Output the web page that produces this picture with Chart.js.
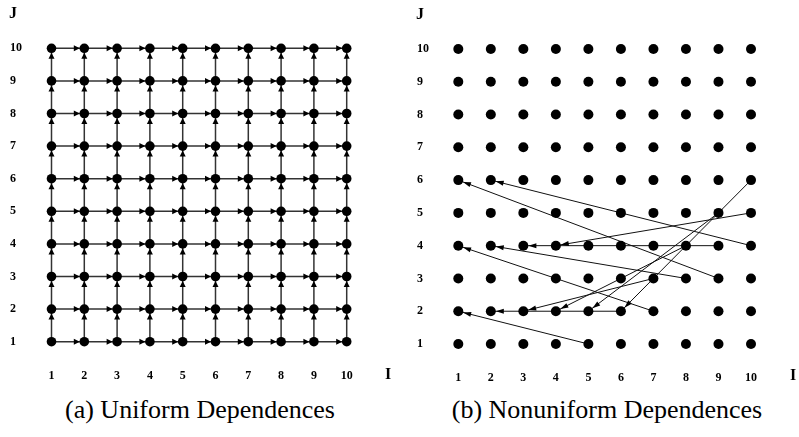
<!DOCTYPE html>
<html>
<head>
<meta charset="utf-8">
<script src="https://cdn.jsdelivr.net/npm/chart.js@4.4.1/dist/chart.umd.min.js"></script>
<style>
  body { margin: 0; background: #fff; width: 799px; height: 437px; overflow: hidden; position: relative; }
  canvas { position: absolute; top: 0; }
  #chartA { left: 0; }
  #chartB { left: 400px; }
  .caption { position: absolute; top: 395px; font-family: 'Liberation Serif', 'Times New Roman', serif; font-size: 26px; color: #000; white-space: nowrap; transform: translateX(-50%); }
</style>
</head>
<body>
<canvas id="chartA" width="400" height="395"></canvas>
<canvas id="chartB" width="399" height="395"></canvas>
<div class="caption" style="left:200px">(a) Uniform Dependences</div>
<div class="caption" style="left:607px">(b) Nonuniform Dependences</div>
<script>
// eixos do espaço de iterações
const iTicks = [1, 2, 3, 4, 5, 6, 7, 8, 9, 10];
const jTicks = [1, 2, 3, 4, 5, 6, 7, 8, 9, 10];

// (a) vetores de dependência uniformes: (1,0) e (0,1)
const uniformDi = [1, 0];
const uniformDj = [0, 1];

// (b) dependências não uniformes: origem -> destino
const nuSrcI = [5, 7, 8, 9, 10, 10, 9, 6, 7, 8, 9, 10];
const nuSrcJ = [1, 2, 3, 3, 4, 5, 4, 2, 3, 4, 5, 6];
const nuDstI = [1, 1, 2, 1, 2, 4, 3, 2, 3, 4, 5, 6];
const nuDstJ = [2, 4, 4, 6, 6, 4, 4, 2, 2, 2, 2, 2];

const serif = "'Liberation Serif', 'Times New Roman', serif";

// pontos da malha
const gridPoints = [];
iTicks.forEach(i => jTicks.forEach(j => gridPoints.push({ x: i, y: j })));

// desenha as pontas das setas no fim de cada linha
const arrowHeads = {
  id: 'arrowHeads',
  afterDatasetsDraw(chart, args, opts) {
    const ctx = chart.ctx;
    ctx.save();
    ctx.fillStyle = opts.color || '#000';
    chart.data.datasets.forEach((ds, idx) => {
      if (!ds.isArrow) return;
      const pts = chart.getDatasetMeta(idx).data;
      if (pts.length < 2) return;
      const a = pts[pts.length - 2], b = pts[pts.length - 1];
      const ang = Math.atan2(b.y - a.y, b.x - a.x);
      const tx = b.x - Math.cos(ang) * opts.gap;
      const ty = b.y - Math.sin(ang) * opts.gap;
      const bx = tx - Math.cos(ang) * opts.len;
      const by = ty - Math.sin(ang) * opts.len;
      const nx = -Math.sin(ang) * opts.half, ny = Math.cos(ang) * opts.half;
      ctx.beginPath();
      ctx.moveTo(tx, ty);
      ctx.lineTo(bx + nx, by + ny);
      ctx.lineTo(bx - nx, by - ny);
      ctx.closePath();
      ctx.fill();
    });
    ctx.restore();
  }
};

// rótulos "J" e "I" dos eixos
const axisNames = {
  id: 'axisNames',
  afterDraw(chart, args, opts) {
    const ctx = chart.ctx;
    ctx.save();
    ctx.fillStyle = '#000';
    ctx.font = 'bold 16px ' + serif;
    ctx.textBaseline = 'middle';
    ctx.textAlign = 'left';
    ctx.fillText('J', opts.jx, opts.jy);
    ctx.fillText('I', opts.ix, opts.iy);
    ctx.restore();
  }
};

function makeOptions(pad, names, heads) {
  return {
    responsive: false,
    animation: false,
    devicePixelRatio: 1,
    layout: { padding: pad },
    plugins: {
      legend: { display: false },
      tooltip: { enabled: false },
      axisNames: names,
      arrowHeads: heads
    },
    scales: {
      x: {
        type: 'linear', min: 1, max: 10,
        afterFit(scale) { scale.height = 48; },
        afterBuildTicks(scale) { scale.ticks = iTicks.map(v => ({ value: v })); },
        grid: { display: false, drawTicks: false },
        border: { display: false },
        ticks: { color: '#000', padding: 27, font: { family: serif, size: 12, weight: 'bold' } }
      },
      y: {
        type: 'linear', min: 1, max: 10,
        afterFit(scale) { scale.width = pad.yWidth; },
        afterBuildTicks(scale) { scale.ticks = jTicks.map(v => ({ value: v })); },
        grid: { display: false, drawTicks: false },
        border: { display: false },
        ticks: { color: '#000', crossAlign: 'far', font: { family: serif, size: 12, weight: 'bold' } }
      }
    }
  };
}

function dotsDataset(radius) {
  return {
    type: 'scatter',
    data: gridPoints,
    pointRadius: radius,
    pointHoverRadius: radius,
    pointBackgroundColor: '#000',
    pointBorderWidth: 0,
    clip: false,
    order: 0
  };
}

function arrowDataset(x0, y0, x1, y1, color, width) {
  return {
    type: 'line',
    isArrow: true,
    data: [{ x: x0, y: y0 }, { x: x1, y: y1 }],
    borderColor: color,
    borderWidth: width,
    pointRadius: 0,
    fill: false,
    clip: false,
    order: 1
  };
}

// (a) dependências uniformes
const dsA = [dotsDataset(4.8)];
gridPoints.forEach(p => {
  for (let k = 0; k < uniformDi.length; k++) {
    const xi = p.x + uniformDi[k], yj = p.y + uniformDj[k];
    if (xi <= 10 && yj <= 10) dsA.push(arrowDataset(p.x, p.y, xi, yj, '#333', 1.5));
  }
});

new Chart(document.getElementById('chartA'), {
  type: 'scatter',
  data: { datasets: dsA },
  options: makeOptions(
    { left: 10, right: 53.3, top: 48.3, bottom: 5.3, yWidth: 41.5 },
    { jx: 9, jy: 14, ix: 385, iy: 375 },
    { len: 6, half: 3, gap: 4.5, color: '#000' }
  ),
  plugins: [arrowHeads, axisNames]
});

// (b) dependências não uniformes
const dsB = [dotsDataset(5)];
nuSrcI.forEach((si, k) => {
  dsB.push(arrowDataset(si, nuSrcJ[k], nuDstI[k], nuDstJ[k], '#111', 1));
});

new Chart(document.getElementById('chartB'), {
  type: 'scatter',
  data: { datasets: dsB },
  options: makeOptions(
    { left: 17, right: 48, top: 49, bottom: 3, yWidth: 41.3 },
    { jx: 16, jy: 15, ix: 390, iy: 376 },
    { len: 8, half: 2.5, gap: 5, color: '#000' }
  ),
  plugins: [arrowHeads, axisNames]
});
</script>
</body>
</html>
